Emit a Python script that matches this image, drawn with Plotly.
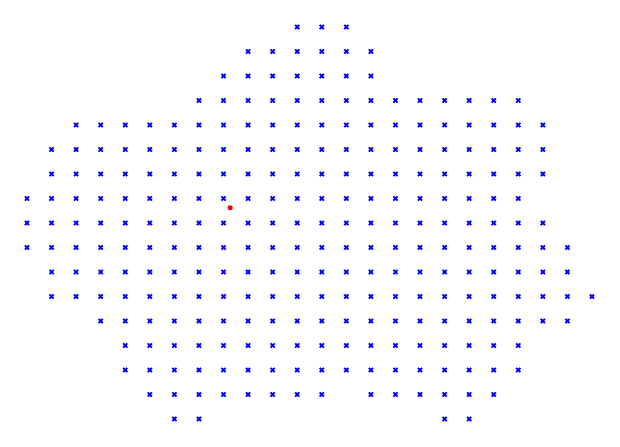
import plotly.graph_objects as go

# Grid rows (top to bottom) and which column indices carry a marker
row_index = list(range(17))
row_cols = [
    [11, 12, 13],
    list(range(9, 15)),
    list(range(8, 15)),
    list(range(7, 21)),
    list(range(2, 22)),
    list(range(1, 22)),
    list(range(1, 22)),
    list(range(0, 21)),
    list(range(0, 22)),
    list(range(0, 23)),
    list(range(1, 23)),
    list(range(1, 24)),
    list(range(3, 23)),
    list(range(4, 21)),
    list(range(4, 21)),
    list(range(5, 13)) + list(range(14, 20)),
    [6, 7, 17, 18],
]

# Highlighted point
point_x = [8.27]
point_y = [7.38]

xs, ys = [], []
for r, cols in zip(row_index, row_cols):
    for c in cols:
        xs.append(c)
        ys.append(r)

fig = go.Figure()
fig.add_trace(go.Scatter(
    x=xs, y=ys, mode="markers",
    marker=dict(symbol="x", size=5, color="#0000ff", line=dict(width=0)),
    showlegend=False, hoverinfo="skip"))
fig.add_trace(go.Scatter(
    x=point_x, y=point_y, mode="markers",
    marker=dict(symbol="circle", size=5, color="#ff0000", line=dict(width=0)),
    showlegend=False, hoverinfo="skip"))

sx = 24.565
sy = 24.5
fig.update_layout(
    width=620, height=447,
    margin=dict(l=0, r=0, t=0, b=0),
    paper_bgcolor="white", plot_bgcolor="white",
    xaxis=dict(range=[-27 / sx, (620 - 27) / sx], visible=False),
    yaxis=dict(range=[(447 - 27) / sy, -27 / sy], visible=False),
)
fig.write_html("out.html")
